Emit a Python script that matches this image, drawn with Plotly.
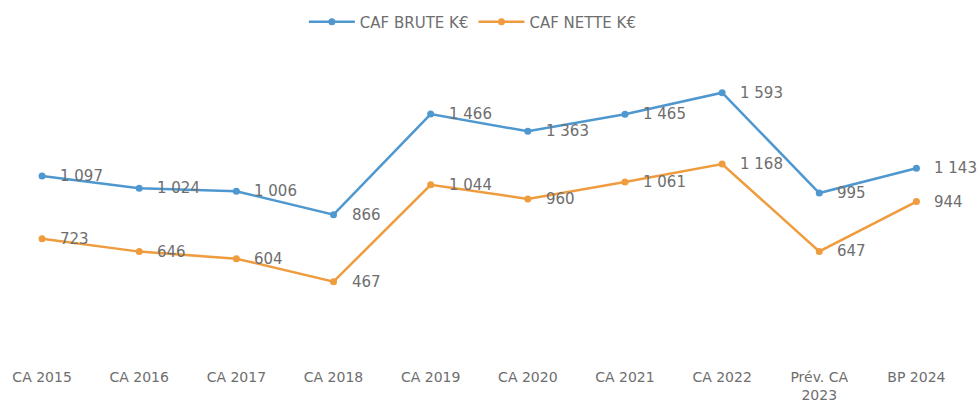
import plotly.graph_objects as go

categories = ["CA 2015", "CA 2016", "CA 2017", "CA 2018", "CA 2019", "CA 2020",
              "CA 2021", "CA 2022", "Prév. CA<br>2023", "BP 2024"]
caf_brute = [1097, 1024, 1006, 866, 1466, 1363, 1465, 1593, 995, 1143]
caf_nette = [723, 646, 604, 467, 1044, 960, 1061, 1168, 647, 944]
series_names = ["CAF BRUTE K€", "CAF NETTE K€"]
colors = ["#4f98cf", "#ee9c3e"]

FONT = "DejaVu Sans"
TXT = "#6e6e6e"

def fmt(v):
    return f"{v:,}".replace(",", " ")

fig = go.Figure()
for name, vals, col in zip(series_names, [caf_brute, caf_nette], colors):
    fig.add_trace(go.Scatter(
        x=categories, y=vals, name=name, mode="lines+markers",
        line=dict(color=col, width=2.5),
        marker=dict(color=col, size=7),
        hoverinfo="skip",
    ))

annotations = []
for vals in [caf_brute, caf_nette]:
    for c, v in zip(categories, vals):
        annotations.append(dict(
            x=c, y=v, text=fmt(v), showarrow=False, xanchor="left", yanchor="middle",
            xshift=16, font=dict(family=FONT, size=15, color=TXT),
        ))

fig.update_layout(
    width=980, height=403,
    margin=dict(l=0, r=15, t=58, b=43, autoexpand=False),
    paper_bgcolor="white", plot_bgcolor="white",
    showlegend=True,
    legend=dict(orientation="h", x=0.49, xanchor="center",
                yref="container", y=1 - 22 / 403, yanchor="middle",
                font=dict(family=FONT, size=15, color=TXT), itemwidth=46),
    annotations=annotations,
    font=dict(family=FONT, size=15, color=TXT),
)
fig.update_xaxes(type="category", range=[-0.433, 9.5], showgrid=False, showline=False,
                 zeroline=False, ticks="outside", ticklen=4, tickcolor="rgba(0,0,0,0)",
                 automargin=False,
                 tickfont=dict(family=FONT, size=14, color=TXT))
fig.update_yaxes(range=[0, 1800], visible=False, showgrid=False, zeroline=False,
                 automargin=False)

fig.write_html("out.html", config={"displayModeBar": False},
               post_script="document.body.style.margin='0';document.body.style.overflow='hidden';")
